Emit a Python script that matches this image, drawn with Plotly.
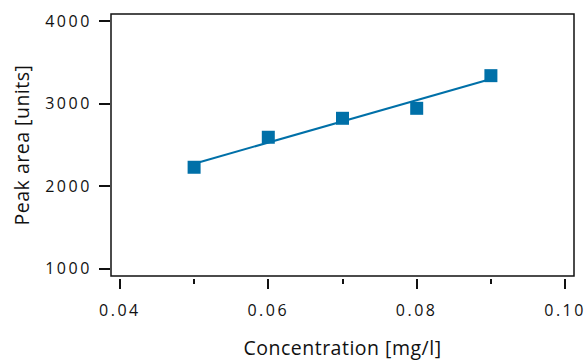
import numpy as np
import plotly.graph_objects as go

concentration = [0.05, 0.06, 0.07, 0.08, 0.09]
peak_area = [2230, 2594, 2824, 2945, 3341]

x_tick_vals = [0.04, 0.06, 0.08, 0.10]
x_tick_text = ["0.04", "0.06", "0.08", "0.10"]
y_tick_vals = [1000, 2000, 3000, 4000]
y_tick_text = ["1000", "2000", "3000", "4000"]

slope, intercept = np.polyfit(concentration, peak_area, 1)
fit_x = [concentration[0], concentration[-1]]
fit_y = [slope * v + intercept for v in fit_x]

blue = "#0070a8"
font_family = "Open Sans, Lato, sans-serif"
ink = "#111111"
tick_font = dict(family=font_family, size=16, color=ink)
title_font = dict(family=font_family, size=19.5, color=ink)

fig = go.Figure()
fig.add_trace(go.Scatter(x=fit_x, y=fit_y, mode="lines",
                         line=dict(color=blue, width=2), hoverinfo="skip"))
fig.add_trace(go.Scatter(x=concentration, y=peak_area, mode="markers",
                         marker=dict(symbol="square", size=13, color=blue,
                                     line=dict(width=0))))

fig.update_layout(
    width=587, height=361,
    margin=dict(l=111, r=13, t=14, b=83, autoexpand=False),
    paper_bgcolor="white", plot_bgcolor="white",
    showlegend=False,
    font=dict(family=font_family, size=16, color=ink),
    xaxis=dict(
        range=[0.0388, 0.1012], anchor="free", position=0,
        automargin=False,
        tickvals=x_tick_vals, ticktext=x_tick_text, tickfont=tick_font,
        ticks="outside", ticklen=10, tickwidth=1.5, tickcolor=ink,
        minor=dict(dtick=0.01, tick0=0.04, ticks="outside", ticklen=5,
                   tickwidth=1.5, tickcolor=ink, showgrid=False),
        showline=False, showgrid=False, zeroline=False,
        ticklabelstandoff=8,
        title=dict(text="Concentration [mg/l]", standoff=22, font=title_font),
    ),
    yaxis=dict(
        range=[911, 4089], domain=[0.0076, 1],
        automargin=False,
        tickvals=y_tick_vals, ticktext=y_tick_text, tickfont=tick_font,
        ticks="outside", ticklen=11, tickwidth=1.5, tickcolor=ink,
        showline=False, showgrid=False, zeroline=False,
        ticklabelstandoff=4,
        title=dict(text="Peak area [units]", standoff=10, font=title_font),
    ),
    shapes=[dict(type="rect", xref="x domain", yref="y domain",
                 x0=0, x1=1, y0=0, y1=1,
                 line=dict(color=ink, width=1.5), layer="above")],
)

fig.write_html("out.html", config={"displayModeBar": False})

css = ("<style>html,body{margin:0;padding:0;overflow:hidden;}"
       ".xtick text,.ytick text{letter-spacing:2.5px;}"
       ".xtitle,.ytitle{letter-spacing:0.5px;}</style>")
with open("out.html", "r", encoding="utf-8") as f:
    html = f.read()
html = html.replace("<head>", "<head>" + css, 1)
with open("out.html", "w", encoding="utf-8") as f:
    f.write(html)
